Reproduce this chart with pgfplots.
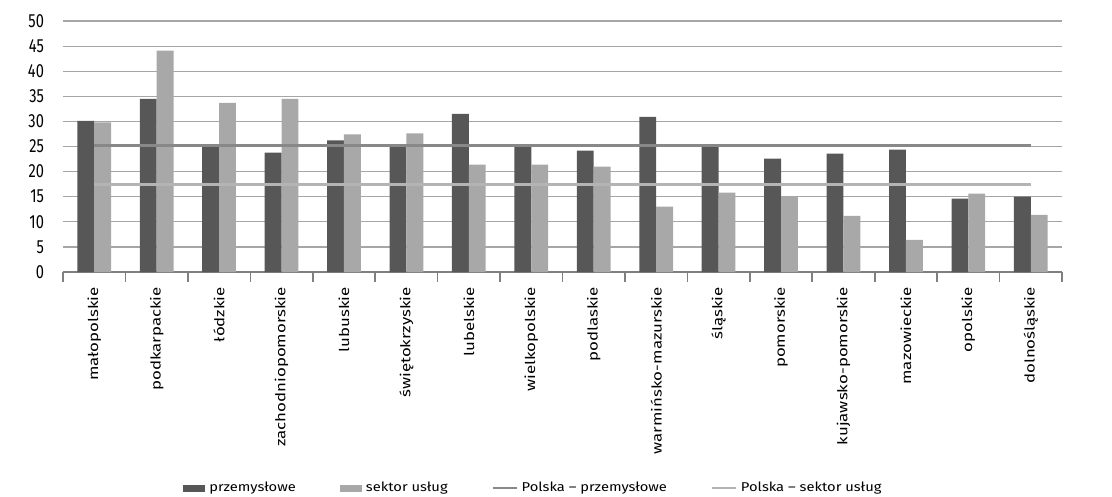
\documentclass[border=0pt]{standalone}
\usepackage{fontspec}
\setmainfont{Fira Sans}
\newfontfamily\ticfont{Fira Sans}[FakeStretch=0.77]
\newfontfamily\labfont{Fira Sans}[FakeStretch=1.24]
\newfontfamily\legfont{Fira Sans}[FakeStretch=1.15]
\usepackage{pgfplots}
\usepackage{pgfplotstable}
\pgfplotsset{compat=1.18}

\definecolor{darkbar}{HTML}{575757}
\definecolor{lightbar}{HTML}{A8A8A8}
\definecolor{darkline}{HTML}{888888}
\definecolor{lightline}{HTML}{B4B4B4}
\definecolor{gridc}{HTML}{A6A6A6}
\definecolor{axisc}{HTML}{7F7F7F}

% wojewodztwo index, przemyslowe, sektor uslug
\pgfplotstableread{
x prz usl
0 30.1 29.8
1 34.5 44.1
2 25.3 33.7
3 23.8 34.5
4 26.2 27.4
5 25.2 27.6
6 31.5 21.4
7 25.1 21.4
8 24.2 21.0
9 30.9 13.0
10 25.2 15.8
11 22.6 15.0
12 23.6 11.2
13 24.4 6.4
14 14.6 15.6
15 15.0 11.4
}\data

\begin{document}
\begin{tikzpicture}
\begin{axis}[
	scale only axis,
	width=499.5pt, height=125.5pt,
	xmin=-0.5, xmax=15.5,
	ymin=0, ymax=50,
	ytick={0,5,...,50},
	xtick={0,...,15},
	xticklabels={małopolskie,podkarpackie,łódzkie,zachodniopomorskie,lubuskie,świętokrzyskie,lubelskie,wielkopolskie,podlaskie,warmińsko-mazurskie,śląskie,pomorskie,kujawsko-pomorskie,mazowieckie,opolskie,dolnośląskie},
	minor xtick={-0.5,0.5,...,15.5},
	major tick length=0pt,
	minor tick length=5pt,
	tick align=outside,
	axis x line*=bottom,
	axis y line*=left,
	y axis line style={draw=none},
	x axis line style={axisc, line width=1pt},
	xtick style={axisc, line width=0.8pt},
	ytick style={draw=none},
	ymajorgrids,
	grid style={gridc, line width=0.6pt},
	/pgf/number format/assume math mode=true,
	yticklabel style={font=\ticfont\fontsize{9.5}{11}\selectfont, xshift=-6pt},
	xticklabel style={rotate=90, anchor=east, font=\labfont\fontsize{6.8}{8}\selectfont, xshift=-4pt},
	legend columns=4,
	legend style={at={(0.120,-0.861)}, anchor=west, draw=none, fill=none, inner sep=0pt,
		font=\legfont\fontsize{6.4}{8}\selectfont,
		/tikz/every even column/.append style={column sep=20pt}},
	legend cell align=left,
]
\addplot[ybar, bar width=0.27, bar shift=-0.135, fill=darkbar, draw=none,
	legend image code/.code={\fill[darkbar] (0pt,-1.75pt) rectangle (11pt,1.75pt);}]
	table[x=x, y=prz] {\data};
\addlegendentry{przemysłowe}
\addplot[ybar, bar width=0.27, bar shift=0.135, fill=lightbar, draw=none,
	legend image code/.code={\fill[lightbar] (0pt,-1.75pt) rectangle (11pt,1.75pt);}]
	table[x=x, y=usl] {\data};
\addlegendentry{sektor usług}
\addplot[darkline, line width=1.5pt,
	legend image code/.code={\draw[darkline, line width=1pt] (0pt,0pt) -- (12pt,0pt);}]
	coordinates {(0,25.2) (15,25.2)};
\addlegendentry{Polska – przemysłowe}
\addplot[lightline, line width=1.5pt,
	legend image code/.code={\draw[lightline, line width=1pt] (0pt,0pt) -- (12pt,0pt);}]
	coordinates {(0,17.5) (15,17.5)};
\addlegendentry{Polska – sektor usług}
\end{axis}
\pgfresetboundingbox
\path ([xshift=-31.5pt,yshift=-112.5pt]current axis.south west) rectangle ([xshift=25pt,yshift=10.5pt]current axis.north east);
\end{tikzpicture}
\end{document}
